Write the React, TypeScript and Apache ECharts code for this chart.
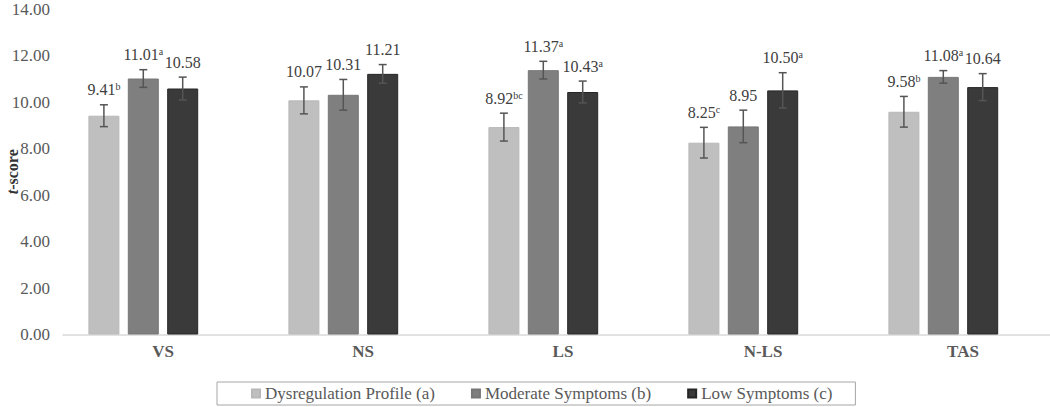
import React, { useEffect, useRef } from "react";
import * as echarts from "echarts";

const categories = ["VS", "NS", "LS", "N-LS", "TAS"];
const seriesNames = ["Dysregulation Profile (a)", "Moderate Symptoms (b)", "Low Symptoms (c)"];
const dysregulation = [9.41, 10.07, 8.92, 8.25, 9.58];
const moderate = [11.01, 10.31, 11.37, 8.95, 11.08];
const low = [10.58, 11.21, 10.43, 10.5, 10.64];
const dysregulationErr = [0.47, 0.58, 0.6, 0.66, 0.66];
const moderateErr = [0.38, 0.66, 0.38, 0.7, 0.27];
const lowErr = [0.49, 0.4, 0.47, 0.76, 0.58];
const dysregulationSup = ["b", "", "bc", "c", "b"];
const moderateSup = ["a", "", "a", "", "a"];
const lowSup = ["", "", "a", "a", ""];
const yTicks = { min: 0, max: 14, interval: 2 };

const FONT = "Liberation Serif, Times New Roman, serif";
const BAR_W = 31;
const BAR_GAP = 8.4;
const N_SLOTS = 4;

const colors = ["#bfbfbf", "#7f7f7f", "#3a3a3a"];
const borders = ["#b8b8b8", "#777777", "#262626"];

export default function App() {
  const ref = useRef<HTMLDivElement>(null);
  useEffect(() => {
    document.body.style.margin = "0";
    if (!ref.current) return;
    const chart = echarts.init(ref.current, null, { renderer: "svg" });
    const vals = [dysregulation, moderate, low];
    const errs = [dysregulationErr, moderateErr, lowErr];
    const sups = [dysregulationSup, moderateSup, lowSup];
    const total = N_SLOTS * BAR_W + (N_SLOTS - 1) * BAR_GAP;

    const barSeries: any[] = seriesNames.map((name, i) => ({
      name,
      type: "bar",
      data: vals[i],
      barWidth: BAR_W,
      barGap: (BAR_GAP / BAR_W) * 100 + "%",
      itemStyle: { color: colors[i], borderColor: borders[i], borderWidth: 1 },
    }));
    barSeries.push({
      name: "spacer",
      type: "bar",
      data: categories.map(() => 0),
      barWidth: BAR_W,
      barGap: (BAR_GAP / BAR_W) * 100 + "%",
      itemStyle: { color: "rgba(0,0,0,0)", borderWidth: 0 },
      silent: true,
    });

    const errSeries: any[] = seriesNames.map((name, i) => ({
      name: name + " err",
      type: "custom",
      z: 5,
      data: categories.map((c, k) => [k, vals[i][k] + errs[i][k], vals[i][k] - errs[i][k]]),
      renderItem: (params: any, api: any) => {
        const k = api.value(0);
        const hi = api.coord([k, api.value(1)]);
        const lo = api.coord([k, api.value(2)]);
        const x = hi[0] - total / 2 + BAR_W / 2 + i * (BAR_W + BAR_GAP);
        const cap = 4;
        const st = { stroke: "#555555", lineWidth: 1.5 };
        const v = vals[i][params.dataIndex];
        const s = sups[i][params.dataIndex];
        const text = "{v|" + v.toFixed(2) + "}" + (s ? "{s|" + s + "}" : "");
        return {
          type: "group",
          children: [
            { type: "line", shape: { x1: x, y1: hi[1], x2: x, y2: lo[1] }, style: st },
            { type: "line", shape: { x1: x - cap, y1: hi[1], x2: x + cap, y2: hi[1] }, style: st },
            { type: "line", shape: { x1: x - cap, y1: lo[1], x2: x + cap, y2: lo[1] }, style: st },
            {
              type: "text",
              style: {
                text,
                x,
                y: hi[1] - 7,
                align: "center",
                verticalAlign: "bottom",
                fill: "#404040",
                rich: {
                  v: { fontFamily: FONT, fontSize: 16, lineHeight: 16, fill: "#404040" },
                  s: { fontFamily: FONT, fontSize: 10, lineHeight: 16, verticalAlign: "top", fill: "#404040" },
                },
              },
            },
          ],
        };
      },
    }));

    chart.setOption({
      animation: false,
      grid: { left: 63, right: -13, top: 9, bottom: 72.5, containLabel: false, outerBoundsMode: "none" },
      legend: {
        data: seriesNames,
        left: 217,
        top: 382,
        orient: "horizontal",
        icon: "rect",
        itemWidth: 8,
        itemHeight: 8,
        itemGap: 36,
        padding: [3, 23, 3, 34],
        borderColor: "#a6a6a6",
        borderWidth: 1,
        textStyle: { fontFamily: FONT, fontSize: 17, color: "#595959" },
      },
      xAxis: {
        type: "category",
        data: categories,
        axisLine: { show: true, lineStyle: { color: "#d9d9d9", width: 1.5 } },
        axisTick: { show: false },
        axisLabel: { fontFamily: FONT, fontSize: 17, fontWeight: "bold", color: "#595959", margin: 8 },
      },
      yAxis: {
        type: "value",
        min: yTicks.min,
        max: yTicks.max,
        interval: yTicks.interval,
        splitLine: { show: false },
        axisLine: { show: false },
        axisTick: { show: false },
        axisLabel: {
          fontFamily: FONT,
          fontSize: 17,
          lineHeight: 14,
          color: "#595959",
          margin: 13,
          formatter: (v: number) => v.toFixed(2),
        },
        name: "{i|t}{b|-score}",
        nameLocation: "middle",
        nameGap: 43,
        nameMoveOverlap: false,
        nameTextStyle: {
          fontFamily: FONT,
          rich: {
            i: { fontFamily: FONT, fontSize: 16, fontStyle: "italic", fontWeight: "bold", color: "#333333" },
            b: { fontFamily: FONT, fontSize: 16, fontWeight: "bold", color: "#333333" },
          },
        },
      },
      series: [...barSeries, ...errSeries],
    });
    return () => chart.dispose();
  }, []);
  return <div ref={ref} style={{ width: 1050, height: 407 }} />;
}
